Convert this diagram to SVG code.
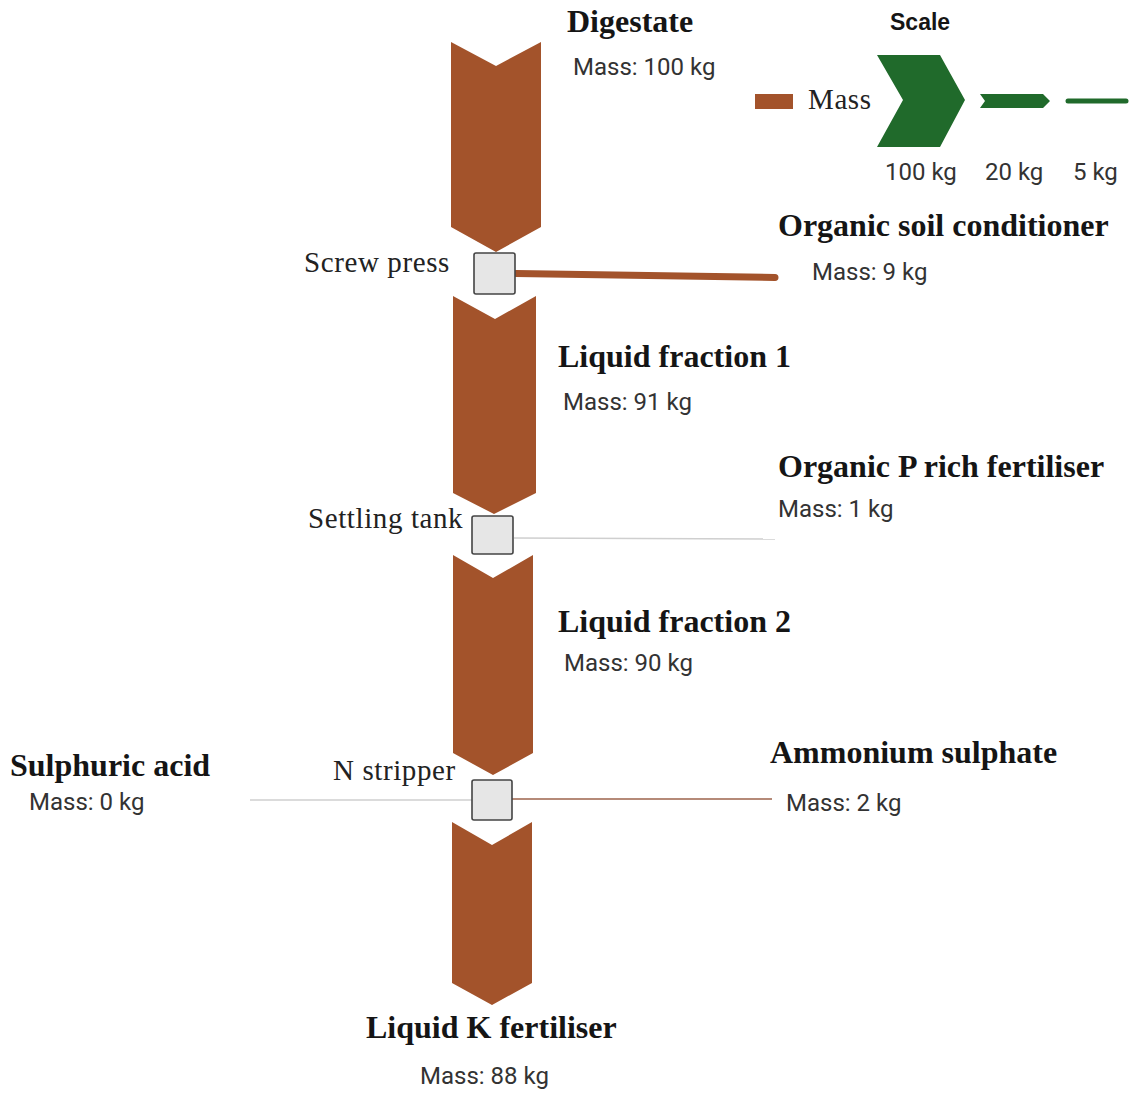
<svg xmlns="http://www.w3.org/2000/svg" width="1129" height="1093" viewBox="0 0 1129 1093">
  <style>
    .flow { fill: #A3532B; }
    .unit { fill: #E6E6E6; stroke: #444; stroke-width: 1.6; }
    .title { font-family: "Liberation Serif", "Times New Roman", serif; font-weight: bold; font-size: 32px; fill: #151515; }
    .proc { font-family: "Liberation Serif", "Times New Roman", serif; font-size: 29px; letter-spacing: 0.6px; fill: #222; }
    .mass { font-family: Roboto, "Liberation Sans", Arial, sans-serif; font-size: 24px; fill: #333; }
    .scale { fill: #206A2B; }
  </style>

  <!-- Connectors: main mass stream and side streams -->
  <g id="connectors">
    <polygon class="flow" points="451,42 496,66 541,42 541,227 496,252 451,227"/>
    <polygon class="flow" points="453,296 495,319 536,296 536,493 494,514 453,493"/>
    <polygon class="flow" points="453,555 493,578 533,555 533,753 493,775 453,753"/>
    <polygon class="flow" points="452,822 492,845 532,822 532,983 492,1005 452,983"/>
    <line x1="516" y1="273.5" x2="775" y2="277.5" stroke="#A3532B" stroke-width="7" stroke-linecap="round"/>
    <line x1="514" y1="538" x2="775" y2="539" stroke="#CFCFCF" stroke-width="1.5"/>
    <line x1="250" y1="800" x2="472" y2="800" stroke="#CFCFCF" stroke-width="1.5"/>
    <line x1="512" y1="799" x2="772" y2="799" stroke="#B58A78" stroke-width="2"/>
  </g>

  <!-- Process units -->
  <g id="screw-press">
    <rect class="unit" x="474" y="253" width="41" height="41" rx="2"/>
    <text class="proc" x="304" y="272">Screw press</text>
  </g>
  <g id="settling-tank">
    <rect class="unit" x="472" y="516" width="41" height="38" rx="2"/>
    <text class="proc" x="308" y="528">Settling tank</text>
  </g>
  <g id="n-stripper">
    <rect class="unit" x="472" y="780" width="40" height="40" rx="2"/>
    <text class="proc" x="333" y="780">N stripper</text>
  </g>

  <!-- Streams -->
  <g id="digestate">
    <text class="title" x="567" y="32">Digestate</text>
    <text class="mass" x="573" y="75">Mass: 100 kg</text>
  </g>
  <g id="organic-soil-conditioner">
    <text class="title" x="778" y="236">Organic soil conditioner</text>
    <text class="mass" x="812" y="280">Mass: 9 kg</text>
  </g>
  <g id="liquid-fraction-1">
    <text class="title" x="558" y="367">Liquid fraction 1</text>
    <text class="mass" x="563" y="410">Mass: 91 kg</text>
  </g>
  <g id="organic-p-rich-fertiliser">
    <text class="title" x="778" y="477">Organic P rich fertiliser</text>
    <text class="mass" x="778" y="517">Mass: 1 kg</text>
  </g>
  <g id="liquid-fraction-2">
    <text class="title" x="558" y="632">Liquid fraction 2</text>
    <text class="mass" x="564" y="671">Mass: 90 kg</text>
  </g>
  <g id="sulphuric-acid">
    <text class="title" x="10" y="776">Sulphuric acid</text>
    <text class="mass" x="29" y="810">Mass: 0 kg</text>
  </g>
  <g id="ammonium-sulphate">
    <text class="title" x="770" y="763">Ammonium sulphate</text>
    <text class="mass" x="786" y="811">Mass: 2 kg</text>
  </g>
  <g id="liquid-k-fertiliser">
    <text class="title" x="366" y="1038">Liquid K fertiliser</text>
    <text class="mass" x="420" y="1084">Mass: 88 kg</text>
  </g>

  <!-- Legend and scale -->
  <g id="legend">
    <rect x="755" y="94" width="38" height="15" fill="#A3532B"/>
    <text class="proc" x="808" y="109" letter-spacing="0">Mass</text>
    <text x="890" y="30" font-family="'Liberation Sans', Arial, sans-serif" font-weight="bold" font-size="23" fill="#151515">Scale</text>
    <polygon class="scale" points="877,55 940,55 965,100 940,147 877,147 903,100"/>
    <polygon class="scale" points="980,94 1043,94 1050,101 1043,108 980,108 985,101"/>
    <line x1="1068" y1="101" x2="1126" y2="101" stroke="#206A2B" stroke-width="5" stroke-linecap="round"/>
    <text class="mass" x="885" y="180">100 kg</text>
    <text class="mass" x="985" y="180">20 kg</text>
    <text class="mass" x="1073" y="180">5 kg</text>
  </g>
</svg>
